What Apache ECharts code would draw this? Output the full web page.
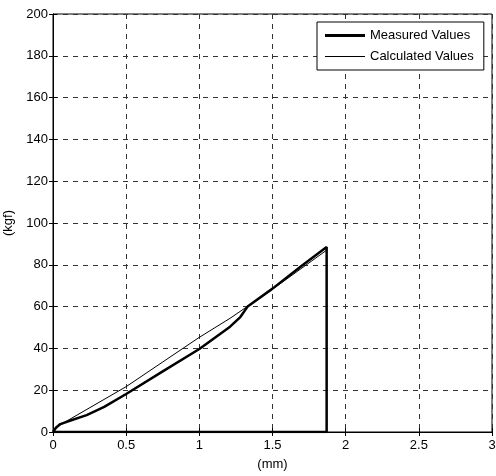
<!DOCTYPE html>
<html>
<head>
<meta charset="utf-8">
<script src="https://cdn.jsdelivr.net/npm/echarts@6/dist/echarts.min.js"></script>
<style>
  html, body { margin: 0; padding: 0; background: #fff; }
  #chart { width: 496px; height: 476px; }
</style>
</head>
<body>
<div id="chart"></div>
<script>
// values (x in mm, y in kgf)
var measuredX = [0, 0.02, 0.05, 0.12, 0.23, 0.35, 0.5, 0.75, 1.0, 1.21, 1.28, 1.33, 1.5, 1.7, 1.87, 1.87, 0];
var measuredY = [0, 2, 3.8, 5.5, 8.1, 12, 18.2, 29, 39.7, 50.4, 55, 60, 68.6, 79.5, 88.5, 0, 0];
var calcX = [0, 0.03, 0.1, 0.5, 1.0, 1.21, 1.5, 1.87];
var calcY = [0, 2.5, 5.5, 21.7, 45.3, 54.4, 68.3, 87];
var seriesNames = ['Measured Values', 'Calculated Values'];

function pairs(xs, ys) {
    var out = [];
    for (var i = 0; i < xs.length; i++) {
        out.push([xs[i], ys[i]]);
    }
    return out;
}

var myChart = echarts.init(document.getElementById('chart'));
var font = 'Liberation Sans, Arial, sans-serif';
var gridLine = { show: true, lineStyle: { color: '#333', type: [5, 5], width: 1 } };

var option = {
    animation: false,
    textStyle: { fontFamily: font },
    grid: {
        left: 53, right: 4, top: 14, bottom: 44,
        outerBoundsMode: 'none', containLabel: false,
        show: true, borderColor: '#000', borderWidth: 1
    },
    legend: {
        orient: 'vertical',
        left: 317,
        top: 22,
        padding: [7, 10, 7, 8],
        itemGap: 8,
        itemWidth: 40,
        itemHeight: 14,
        borderColor: '#000',
        borderWidth: 1,
        backgroundColor: '#fff',
        textStyle: { fontFamily: font, fontSize: 13, color: '#000' },
        data: [
            { name: seriesNames[0], icon: 'path://M0,0 H40 V3 H0 Z' },
            { name: seriesNames[1], icon: 'path://M0,0 H40 V1 H0 Z' }
        ]
    },
    xAxis: [
        {
            type: 'value', min: 0, max: 3, interval: 0.5,
            name: '(mm)', nameLocation: 'middle', nameGap: 26,
            nameTextStyle: { fontFamily: font, fontSize: 13, color: '#000' },
            axisLine: { show: true, lineStyle: { color: '#000' } },
            axisTick: { show: true, inside: true, length: 4, lineStyle: { color: '#000' } },
            axisLabel: { color: '#000', fontSize: 13, fontFamily: font, margin: 7 },
            splitLine: gridLine
        },
        {
            type: 'value', min: 0, max: 3, interval: 0.5, position: 'top',
            axisLine: { show: true, lineStyle: { color: '#000' } },
            axisTick: { show: true, inside: true, length: 4, lineStyle: { color: '#000' } },
            axisLabel: { show: false },
            splitLine: { show: false }
        }
    ],
    yAxis: [
        {
            type: 'value', min: 0, max: 200, interval: 20,
            name: '(kgf)', nameLocation: 'middle', nameGap: 35, nameRotate: 90,
            nameTextStyle: { fontFamily: font, fontSize: 13, color: '#000' },
            axisLine: { show: true, lineStyle: { color: '#000' } },
            axisTick: { show: true, inside: true, length: 4, lineStyle: { color: '#000' } },
            axisLabel: { color: '#000', fontSize: 13, fontFamily: font, margin: 5 },
            splitLine: gridLine
        },
        {
            type: 'value', min: 0, max: 200, interval: 20, position: 'right',
            axisLine: { show: true, lineStyle: { color: '#000' } },
            axisTick: { show: true, inside: true, length: 4, lineStyle: { color: '#000' } },
            axisLabel: { show: false },
            splitLine: { show: false }
        }
    ],
    series: [
        {
            name: seriesNames[0],
            type: 'line',
            showSymbol: false,
            color: '#000',
            lineStyle: { color: '#000', width: 2.5 },
            data: pairs(measuredX, measuredY)
        },
        {
            name: seriesNames[1],
            type: 'line',
            showSymbol: false,
            color: '#000',
            lineStyle: { color: '#000', width: 1 },
            data: pairs(calcX, calcY)
        }
    ]
};
myChart.setOption(option);
</script>
</body>
</html>
